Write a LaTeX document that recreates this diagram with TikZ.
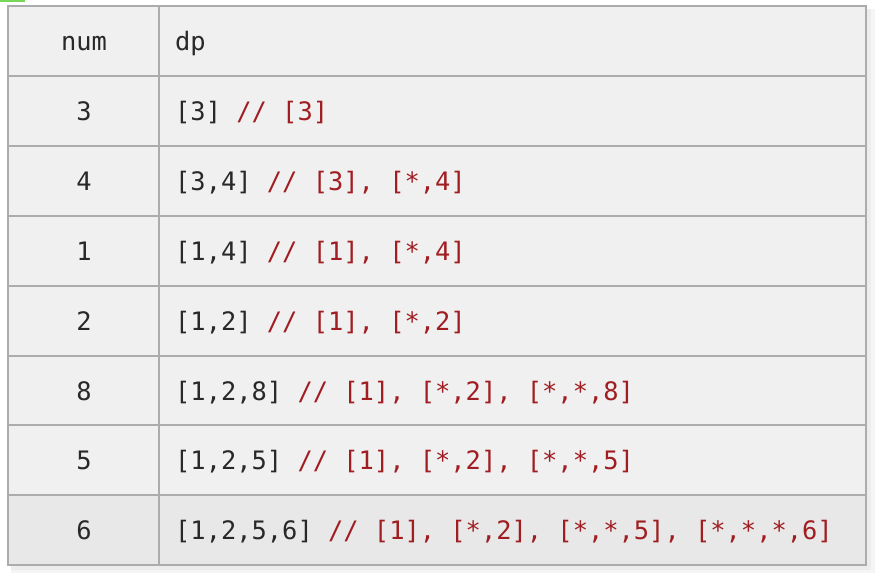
\documentclass[tikz,border=0pt]{standalone}
\usepackage{fontspec}
\newfontfamily\codefont{DejaVu Sans Mono}
\definecolor{txtdark}{RGB}{40,40,40}
\definecolor{txtred}{RGB}{160,30,34}
\definecolor{gridline}{RGB}{172,172,172}
\definecolor{cellbg}{RGB}{240,240,240}
\definecolor{lastbg}{RGB}{232,232,232}
\definecolor{uigreen}{RGB}{120,214,90}
\tikzset{
  cell/.style={inner sep=0pt, font=\codefont\fontsize{25.4}{30}\selectfont, text=txtdark},
  numcell/.style={cell, anchor=base},
  dpcell/.style={cell, anchor=base west},
  grid/.style={draw=gridline, line width=1.6pt},
}
\newcommand{\rd}[1]{\textcolor{txtred}{#1}}
\begin{document}
\begin{tikzpicture}[x=1pt,y=-1pt]
\useasboundingbox (0,0) rectangle (881,573);
\fill[white] (0,0) rectangle (881,573);
% shadow
\fill[black!7] (11,9) rectangle (871,570);
\fill[black!4] (11,9) rectangle (875,573);
\fill[black!7] (11,9) rectangle (871,570);
% cells
\fill[cellbg] (8,6) rectangle (866,495);
\fill[lastbg] (8,495) rectangle (866,565);
\fill[uigreen] (0,0) rectangle (25,2);
% grid
\foreach \y in {76,146,216,286,356,425,495} \draw[grid] (8,\y) -- (866,\y);
\draw[grid] (159,6) -- (159,565);
\draw[grid] (8,6) rectangle (866,565);
% header
\node[numcell] (hnum) at (84,50) {num};
\node[dpcell] (hdp) at (175,50) {dp};
% rows
\node[numcell] (n1) at (84,120) {3};
\node[dpcell] (d1) at (175,120) {[3] \rd{// [3]}};
\node[numcell] (n2) at (84,190) {4};
\node[dpcell] (d2) at (175,190) {[3,4] \rd{// [3], [*,4]}};
\node[numcell] (n3) at (84,260) {1};
\node[dpcell] (d3) at (175,260) {[1,4] \rd{// [1], [*,4]}};
\node[numcell] (n4) at (84,330) {2};
\node[dpcell] (d4) at (175,330) {[1,2] \rd{// [1], [*,2]}};
\node[numcell] (n5) at (84,400) {8};
\node[dpcell] (d5) at (175,400) {[1,2,8] \rd{// [1], [*,2], [*,*,8]}};
\node[numcell] (n6) at (84,469) {5};
\node[dpcell] (d6) at (175,469) {[1,2,5] \rd{// [1], [*,2], [*,*,5]}};
\node[numcell] (n7) at (84,539) {6};
\node[dpcell] (d7) at (175,539) {[1,2,5,6] \rd{// [1], [*,2], [*,*,5], [*,*,*,6]}};
\end{tikzpicture}
\end{document}
